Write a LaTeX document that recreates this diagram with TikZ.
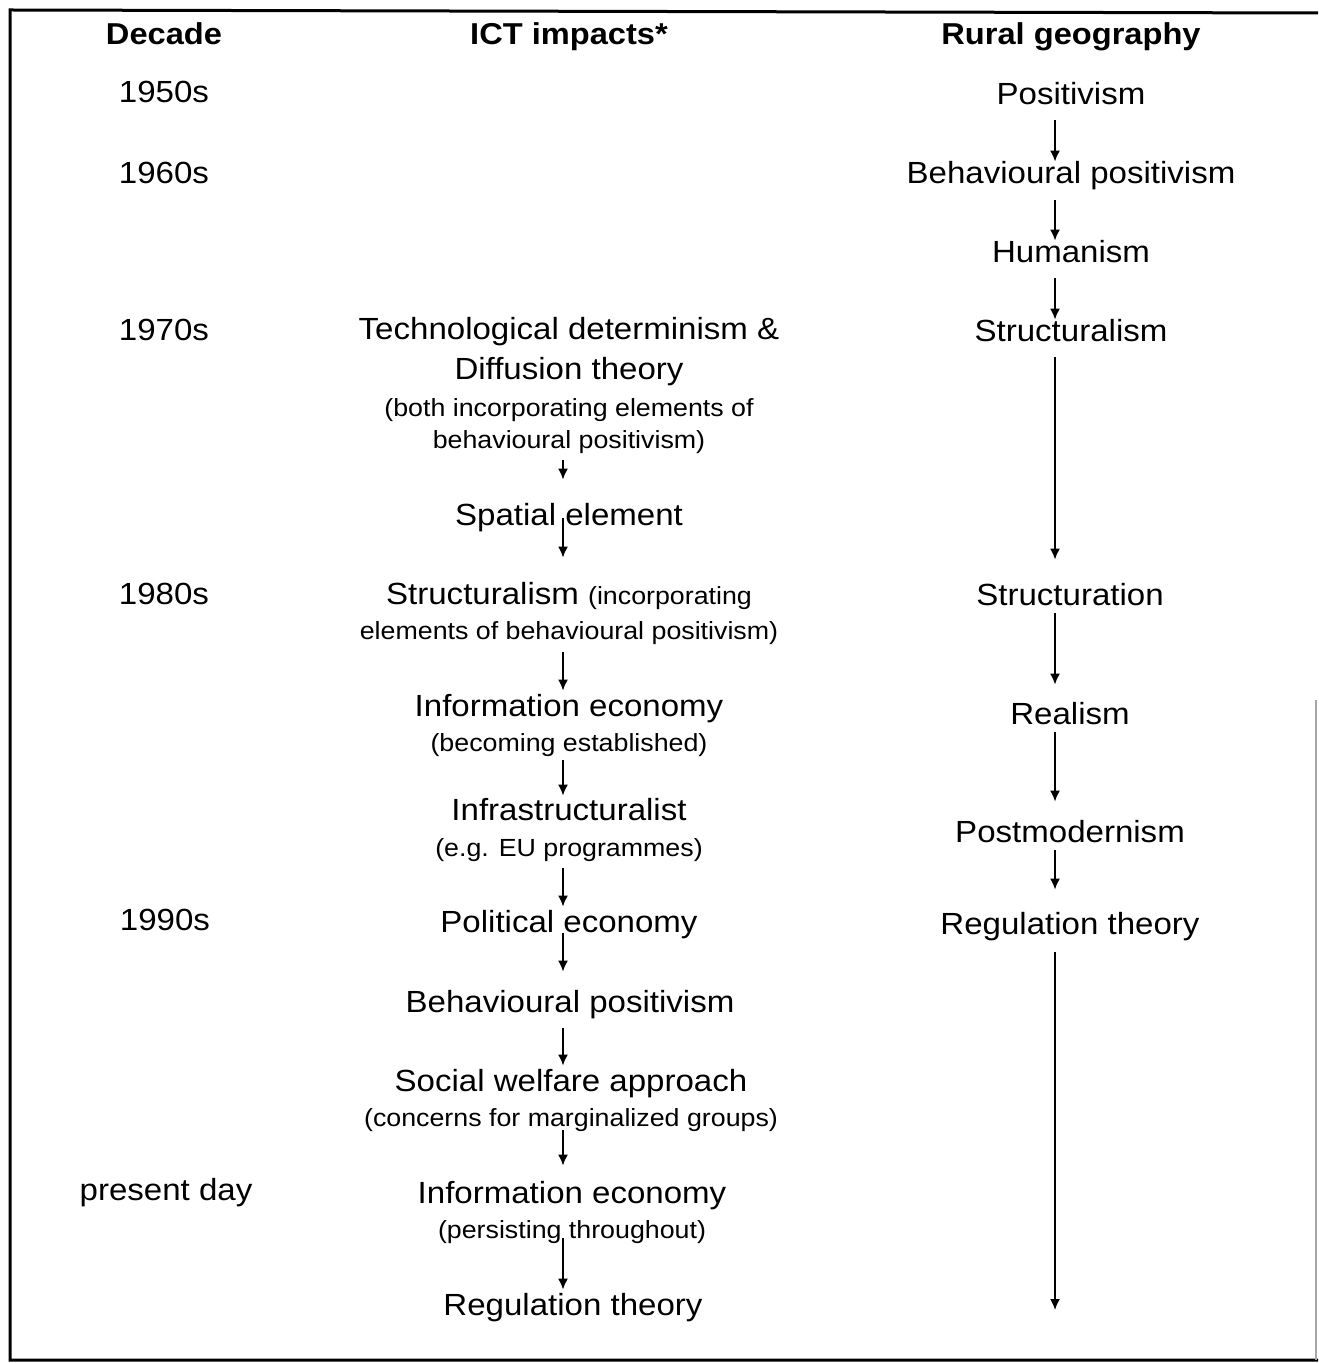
\documentclass[tikz,border=0pt]{standalone}
\usepackage{fontspec}
\setmainfont{Liberation Sans}[FakeStretch=1.08]
\usetikzlibrary{arrows.meta}
\newcommand\mainsz{\fontsize{15.3}{18}\selectfont}
\newcommand\smallsz{\fontsize{12.4}{14}\selectfont}
\newcommand\hdsz{\fontsize{15.1}{18}\selectfont\bfseries}
\begin{document}
\begin{tikzpicture}[x=0.5pt,y=-0.5pt,
  lbl/.style={inner sep=0pt, anchor=base, font=\mainsz, text height=11pt, text depth=3.5pt, yshift=-1.5pt},
  sm/.style={inner sep=0pt, anchor=base, font=\smallsz, text height=9pt, text depth=3pt, yshift=-1.5pt},
  hd/.style={inner sep=0pt, anchor=base, font=\hdsz, yshift=-1pt},
  arr/.style={-{Latex[length=5.5pt,width=5pt]}, line width=0.9pt},
  frame/.style={line width=1.5pt}]
\useasboundingbox (0,0) rectangle (1318,1363);
% frame
\draw[frame] (1318,13) -- (10,10) -- (10,1360) -- (1318,1360);
\draw[line width=1pt, black!35] (1316,700) -- (1316,1360);
% headers
\node[hd] (hdec) at (164,43) {Decade};
\node[hd] (hict) at (569,43) {ICT impacts*};
\node[hd] (hrur) at (1071,43) {Rural geography};
% decades
\node[lbl] (d50) at (164,100) {1950s};
\node[lbl] (d60) at (164,181) {1960s};
\node[lbl] (d70) at (164,338) {1970s};
\node[lbl] (d80) at (164,601) {1980s};
\node[lbl] (d90) at (165,927) {1990s};
\node[lbl] (dpr) at (166,1197) {present day};
% ICT impacts column
\node[lbl] (m1a) at (569,337) {Technological determinism \&};
\node[lbl] (m1b) at (569,377) {Diffusion theory};
\node[sm]  (m1c) at (569,413) {(both incorporating elements of};
\node[sm]  (m1d) at (569,445) {behavioural positivism)};
\node[lbl] (m2)  at (569,522) {Spatial element};
\node[lbl] (m3a) at (569,601) {Structuralism {\smallsz(incorporating}};
\node[sm]  (m3b) at (569,636) {elements of behavioural positivism)};
\node[lbl] (m4a) at (569,713) {Information economy};
\node[sm]  (m4b) at (569,748) {(becoming established)};
\node[lbl] (m5a) at (569,817) {Infrastructuralist};
\node[sm]  (m5b) at (569,853) {(e.g. EU programmes)};
\node[lbl] (m6)  at (569,929) {Political economy};
\node[lbl] (m7)  at (570,1009) {Behavioural positivism};
\node[lbl] (m8a) at (571,1088) {Social welfare approach};
\node[sm]  (m8b) at (571,1123) {(concerns for marginalized groups)};
\node[lbl] (m9a) at (572,1200) {Information economy};
\node[sm]  (m9b) at (572,1235) {(persisting throughout)};
\node[lbl] (m10) at (573,1312) {Regulation theory};
% Rural geography column
\node[lbl] (r1) at (1071,102) {Positivism};
\node[lbl] (r2) at (1071,181) {Behavioural positivism};
\node[lbl] (r3) at (1071,260) {Humanism};
\node[lbl] (r4) at (1071,339) {Structuralism};
\node[lbl] (r5) at (1070,602) {Structuration};
\node[lbl] (r6) at (1070,721) {Realism};
\node[lbl] (r7) at (1070,839) {Postmodernism};
\node[lbl] (r8) at (1070,931) {Regulation theory};
% arrow columns
\coordinate (xR) at (1055,0);
\coordinate (xM) at (563,0);
\coordinate (rend) at (1055,1310);
% right arrows
\draw[arr, shorten <=4pt] (r1.south -| xR) -- (r2.north -| xR);
\draw[arr, shorten <=4.5pt] (r2.south -| xR) -- (r3.north -| xR);
\draw[arr, shorten <=4pt] (r3.south -| xR) -- (r4.north -| xR);
\draw[arr, shorten <=4pt, shorten >=11.5pt] (r4.south -| xR) -- (r5.north -| xR);
\draw[arr, shorten <=0.5pt, shorten >=8.5pt] (r5.south -| xR) -- (r6.north -| xR);
\draw[arr, shorten <=0.5pt, shorten >=9pt] (r6.south -| xR) -- (r7.north -| xR);
\draw[arr, shorten <=0.5pt, shorten >=11pt] (r7.south -| xR) -- (r8.north -| xR);
\draw[arr, shorten <=5.5pt] (r8.south -| xR) -- (rend);
% middle arrows
\draw[arr, shorten <=3pt, shorten >=11.5pt] (m1d.south -| xM) -- (m2.north -| xM);
\draw[arr, shorten <=-7pt, shorten >=12pt] (m2.south -| xM) -- (m3a.north -| xM);
\draw[arr, shorten <=3.5pt, shorten >=1.5pt] (m3b.south -| xM) -- (m4a.north -| xM);
\draw[arr, shorten <=1.5pt, shorten >=1pt] (m4b.south -| xM) -- (m5a.north -| xM);
\draw[arr, shorten <=3pt, shorten >=1.5pt] (m5b.south -| xM) -- (m6.north -| xM);
\draw[arr, shorten <=-3pt, shorten >=9pt] (m6.south -| xM) -- (m7.north -| xM);
\draw[arr, shorten <=4.5pt, shorten >=1.5pt] (m7.south -| xM) -- (m8a.north -| xM);
\draw[arr, shorten <=-1pt, shorten >=7.5pt] (m8b.south -| xM) -- (m9a.north -| xM);
\draw[arr, shorten <=-3pt, shorten >=1.5pt] (m9b.south -| xM) -- (m10.north -| xM);
\end{tikzpicture}
\end{document}
